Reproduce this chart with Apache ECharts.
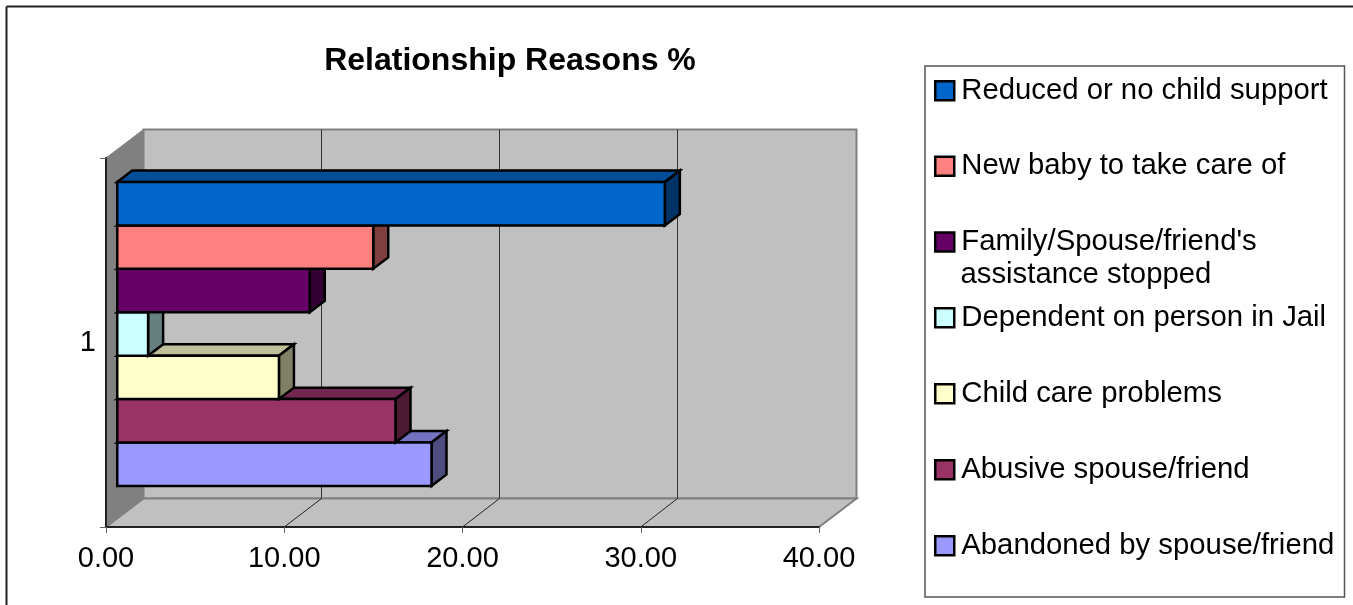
<!DOCTYPE html>
<html>
<head>
<meta charset="utf-8">
<style>html,body{margin:0;padding:0;background:#fff}#c{width:1353px;height:605px}</style>
<script src="https://cdn.jsdelivr.net/npm/echarts@6/dist/echarts.min.js"></script>
</head>
<body>
<div id="c"></div>
<script>
const categories = ['1'];
const seriesNames = ['Abandoned by spouse/friend','Abusive spouse/friend','Child care problems','Dependent on person in Jail',"Family/Spouse/friend's",'New baby to take care of','Reduced or no child support'];
const seriesValues = [17.63, 15.61, 9.07, 1.73, 10.80, 14.36, 30.72];
const xTicks = [0, 10, 20, 30, 40];
const legendCenters = [543.7, 467.7, 391.7, 315.8, 240, 164.3, 88.7];

const frontColors = ['#9999FF','#993366','#FFFFCC','#CCFFFF','#660066','#FF8080','#0066CC'];
const topColors   = ['#7373BF','#732650','#BFBF99','#99BFBF','#4D004D','#BF6060','#004D99'];
const sideColors  = ['#4D4D80','#4D1A33','#808066','#668080','#330033','#804040','#003366'];

const DX = 37.5, DY = 28.5;
const FONT = '"Liberation Sans", Arial, sans-serif';

function wallsRender(params, api) {
  const [x0] = api.coord([xTicks[0], 0]);
  const [x1, cy] = api.coord([xTicks[xTicks.length - 1], 0]);
  const band = api.size([0, 1])[1];
  const yT = cy - band / 2, yB = cy + band / 2;
  const children = [
    {type:'polygon', shape:{points:[[x0+DX,yT-DY],[x1+DX,yT-DY],[x1+DX,yB-DY],[x0+DX,yB-DY]]}, style:{fill:'#C0C0C0',stroke:'#808080',lineWidth:2}},
    {type:'polygon', shape:{points:[[x0,yT],[x0+DX,yT-DY],[x0+DX,yB-DY],[x0,yB]]}, style:{fill:'#808080',stroke:'#808080',lineWidth:1}},
    {type:'polygon', shape:{points:[[x0,yB],[x0+DX,yB-DY],[x1+DX,yB-DY],[x1,yB]]}, style:{fill:'#C0C0C0',stroke:'#808080',lineWidth:2}}
  ];
  xTicks.slice(1, -1).forEach(t => {
    const xt = api.coord([t, 0])[0];
    const xb = Math.floor(xt + DX - 0.5) + 0.5;
    children.push({type:'line', shape:{x1:xb,y1:yT-DY,x2:xb,y2:yB-DY}, style:{stroke:'#333',lineWidth:1}});
    children.push({type:'line', shape:{x1:xt,y1:yB,x2:xb,y2:yB-DY}, style:{stroke:'#222',lineWidth:1}});
  });
  return {type:'group', children};
}

function barRender(i) {
  return function (params, api) {
    const [xa, cy] = api.coord([0, 0]);
    const xv = api.coord([api.value(0), 0])[0];
    const band = api.size([0, 1])[1];
    const h = band / (seriesValues.length + 1.5);
    const yBottom = cy + band / 2 - 0.3 * DY - 0.75 * h - i * h;
    const yTop = yBottom - h;
    const l = xa + 0.3 * DX, r = xv + 0.3 * DX;
    const dx = 0.4 * DX, dy = 0.4 * DY;
    const st = f => ({fill:f, stroke:'#000', lineWidth:2.5, lineJoin:'miter'});
    return {type:'group', children:[
      {type:'polygon', shape:{points:[[l,yTop],[l+dx,yTop-dy],[r+dx,yTop-dy],[r,yTop]]}, style:st(topColors[i])},
      {type:'polygon', shape:{points:[[r,yTop],[r+dx,yTop-dy],[r+dx,yBottom-dy],[r,yBottom]]}, style:st(sideColors[i])},
      {type:'polygon', shape:{points:[[l,yTop],[r,yTop],[r,yBottom],[l,yBottom]]}, style:st(frontColors[i])}
    ]};
  };
}

const series = [{
  type:'custom', z:1, silent:true, renderItem:wallsRender, data:[[0,0]], animation:false
}].concat(seriesNames.map((name, i) => ({
  name, type:'custom', z:2 + i, renderItem:barRender(i), animation:false,
  itemStyle:{color:frontColors[i], borderColor:'#000', borderWidth:2},
  encode:{x:0, y:1}, data:[[seriesValues[i], 0]]
})));

const legends = seriesNames.map((name, i) => ({
  data:[name], orient:'vertical', left:934, top:legendCenters[i] - 13,
  padding:0, itemWidth:19, itemHeight:19, selectedMode:false,
  icon:'rect', itemStyle:{borderColor:'#000', borderWidth:2.5},
  textStyle:{fontFamily:FONT, fontSize:29.3, lineHeight:30, color:'#000', padding:[0,0,0,2]}
}));

const chart = echarts.init(document.getElementById('c'), null, {renderer:'canvas'});
chart.setOption({
  animation:false,
  backgroundColor:'#fff',
  title:{text:'Relationship Reasons %', left:505, top:40, textAlign:'center',
    textStyle:{fontFamily:FONT, fontSize:32, fontWeight:'bold', color:'#000'}},
  grid:{left:106, top:158, width:713, height:369},
  xAxis:{type:'value', min:0, max:40, interval:10, z:5,
    axisLine:{show:true, lineStyle:{color:'#222', width:2}},
    axisTick:{show:true, length:6, lineStyle:{color:'#666', width:1}},
    splitLine:{show:false},
    axisLabel:{color:'#000', fontFamily:FONT, fontSize:29, margin:17, formatter:v => v.toFixed(2)}},
  yAxis:{type:'category', data:categories, z:5,
    axisLine:{show:true, lineStyle:{color:'#222', width:2}},
    axisTick:{show:true, length:6, lineStyle:{color:'#666', width:1}},
    splitLine:{show:false},
    axisLabel:{color:'#000', fontFamily:FONT, fontSize:29, margin:10, padding:[6,0,0,0]}},
  legend:legends,
  tooltip:{show:false},
  series,
  graphic:[
    {type:'line', silent:true, shape:{x1:6.5,y1:605,x2:6.5,y2:6.5}, style:{stroke:'#222',lineWidth:2}},
    {type:'line', silent:true, shape:{x1:6.5,y1:6.5,x2:1353,y2:6.5}, style:{stroke:'#222',lineWidth:2}},
    {type:'rect', silent:true, z:-1, shape:{x:925,y:66,width:419.5,height:531}, style:{fill:'#fff',stroke:'#555',lineWidth:1.5}},
    {type:'text', silent:true, x:960.5, y:275, style:{text:'assistance stopped', font:'29.3px '+FONT, fill:'#000', verticalAlign:'middle', textVerticalAlign:'middle'}}
  ]
});
</script>
</body>
</html>
